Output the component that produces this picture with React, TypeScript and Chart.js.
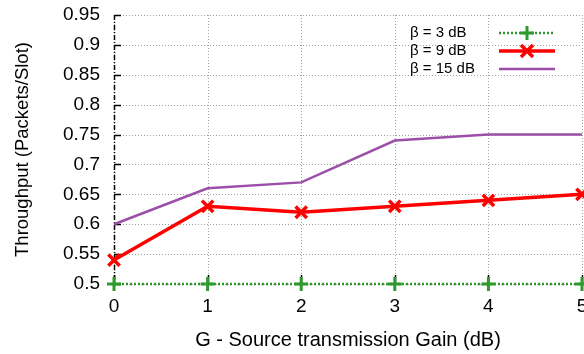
import React, { useEffect, useRef } from "react";
import { Chart, registerables } from "chart.js";

Chart.register(...registerables);

const gains = [0, 1, 2, 3, 4, 5];
const beta3 = [0.5, 0.5, 0.5, 0.5, 0.5, 0.5];
const beta9 = [0.54, 0.63, 0.62, 0.63, 0.64, 0.65];
const beta15 = [0.6, 0.66, 0.67, 0.74, 0.75, 0.75];
const seriesLabels = ["β = 3 dB", "β = 9 dB", "β = 15 dB"];
const xTitle = "G - Source transmission Gain (dB)";
const yTitle = "Throughput (Packets/Slot)";

const GREEN = "#2e9a2e";
const RED = "#ff0000";
const PURPLE = "#9b4fa8";
const FONT = "'Liberation Sans', Arial, sans-serif";

const toPts = (ys: number[]) => gains.map((x, i) => ({ x, y: ys[i] }));

const gridPlugin = {
  id: "gridPlugin",
  beforeDatasetsDraw(chart: any) {
    const { ctx, chartArea, scales } = chart;
    const ys = scales.y;
    const xs = scales.x;
    const { left, right, top, bottom } = chartArea;
    ctx.save();
    ctx.strokeStyle = "#a0a0a0";
    ctx.lineWidth = 1;
    ctx.setLineDash([1, 2]);
    ys.ticks.forEach((t: any) => {
      const py = Math.round(ys.getPixelForValue(t.value)) + 0.5;
      ctx.beginPath();
      ctx.moveTo(left, py);
      ctx.lineTo(right, py);
      ctx.stroke();
    });
    xs.ticks.forEach((t: any) => {
      const px = Math.round(xs.getPixelForValue(t.value)) + 0.5;
      ctx.beginPath();
      ctx.moveTo(px, top);
      ctx.lineTo(px, bottom);
      ctx.stroke();
    });
    // left border dash-dot
    ctx.strokeStyle = "#000";
    ctx.lineWidth = 1.5;
    ctx.setLineDash([5, 2, 1, 2]);
    ctx.beginPath();
    ctx.moveTo(left + 0.5, top);
    ctx.lineTo(left + 0.5, bottom);
    ctx.stroke();
    ctx.setLineDash([]);
    ys.ticks.forEach((t: any) => {
      const py = Math.round(ys.getPixelForValue(t.value)) + 0.5;
      ctx.beginPath();
      ctx.moveTo(left, py);
      ctx.lineTo(left + 7, py);
      ctx.stroke();
    });
    xs.ticks.forEach((t: any) => {
      const px = Math.round(xs.getPixelForValue(t.value)) + 0.5;
      ctx.beginPath();
      ctx.moveTo(px, bottom);
      ctx.lineTo(px, bottom - 9);
      ctx.stroke();
    });
    ctx.restore();
  },
  afterDraw(chart: any) {
    const { ctx } = chart;
    ctx.save();
    const colors = [GREEN, RED, PURPLE];
    const rows = [33, 51, 69];
    ctx.font = `15px ${FONT}`;
    ctx.textBaseline = "middle";
    ctx.textAlign = "left";
    rows.forEach((ry, i) => {
      ctx.fillStyle = "#000";
      ctx.fillText(seriesLabels[i], 410, ry);
      ctx.strokeStyle = colors[i];
      const x1 = 499, x2 = 555, cx = 527;
      if (i === 0) {
        ctx.lineWidth = 2.5;
        ctx.setLineDash([2, 2]);
        ctx.beginPath();
        ctx.moveTo(x1, ry);
        ctx.lineTo(x2, ry);
        ctx.stroke();
        ctx.setLineDash([]);
        ctx.lineWidth = 3;
        ctx.beginPath();
        ctx.moveTo(cx - 7, ry);
        ctx.lineTo(cx + 7, ry);
        ctx.moveTo(cx, ry - 7);
        ctx.lineTo(cx, ry + 7);
        ctx.stroke();
      } else if (i === 1) {
        ctx.setLineDash([]);
        ctx.lineWidth = 3.5;
        ctx.beginPath();
        ctx.moveTo(x1, ry);
        ctx.lineTo(x2, ry);
        ctx.stroke();
        ctx.beginPath();
        ctx.moveTo(cx - 6, ry - 6);
        ctx.lineTo(cx + 6, ry + 6);
        ctx.moveTo(cx - 6, ry + 6);
        ctx.lineTo(cx + 6, ry - 6);
        ctx.stroke();
      } else {
        ctx.setLineDash([]);
        ctx.lineWidth = 2.5;
        ctx.beginPath();
        ctx.moveTo(x1, ry);
        ctx.lineTo(x2, ry);
        ctx.stroke();
      }
    });
    ctx.restore();
  },
};

export default function App() {
  const ref = useRef<HTMLCanvasElement>(null);
  useEffect(() => {
    if (!ref.current) return;
    const chart = new Chart(ref.current, {
      type: "line",
      data: {
        datasets: [
          {
            label: seriesLabels[2],
            data: toPts(beta15),
            borderColor: PURPLE,
            borderWidth: 2.5,
            pointRadius: 0,
            tension: 0,
            clip: false as any,
          },
          {
            label: seriesLabels[1],
            data: toPts(beta9),
            borderColor: RED,
            backgroundColor: RED,
            borderWidth: 3.5,
            pointStyle: "crossRot",
            pointRadius: 8,
            pointBorderWidth: 3.5,
            tension: 0,
            clip: false as any,
          },
          {
            label: seriesLabels[0],
            data: toPts(beta3),
            borderColor: GREEN,
            backgroundColor: GREEN,
            borderWidth: 2.5,
            borderDash: [2, 2],
            pointStyle: "cross",
            pointRadius: 7,
            pointBorderWidth: 3,
            tension: 0,
            clip: false as any,
          },
        ],
      },
      options: {
        animation: false,
        responsive: false,
        layout: { autoPadding: false, padding: { top: 15, right: 2, left: 0, bottom: 0 } },
        plugins: { legend: { display: false }, tooltip: { enabled: false } },
        scales: {
          x: {
            type: "linear",
            min: 0,
            max: 5,
            ticks: {
              stepSize: 1,
              padding: 11,
              color: "#000",
              font: { family: FONT, size: 19 },
            },
            grid: { display: false, drawTicks: false },
            border: { display: false },
            title: {
              display: true,
              text: xTitle,
              color: "#000",
              font: { family: FONT, size: 20 },
              padding: { top: 0, bottom: 2 },
            },
            afterFit: (s: any) => {
              s.height = 70;
              s.paddingLeft = 0;
              s.paddingRight = 0;
            },
          },
          y: {
            min: 0.5,
            max: 0.95,
            ticks: {
              stepSize: 0.05,
              padding: 14,
              color: "#000",
              font: { family: FONT, size: 19 },
              callback: (v: any) => String(Math.round(Number(v) * 100) / 100),
            },
            grid: { display: false, drawTicks: false },
            border: { display: false },
            title: {
              display: true,
              text: yTitle,
              color: "#000",
              font: { family: FONT, size: 18.5 },
              padding: { top: 12, bottom: 0 },
            },
            afterFit: (s: any) => {
              s.width = 114;
              s.paddingTop = 0;
              s.paddingBottom = 0;
            },
          },
        },
      },
      plugins: [gridPlugin],
    });
    return () => chart.destroy();
  }, []);
  return (
    <div style={{ position: "fixed", left: 0, top: 0, width: 584, height: 354, background: "#fff" }}>
      <canvas ref={ref} width={584} height={354} style={{ display: "block" }} />
    </div>
  );
}
